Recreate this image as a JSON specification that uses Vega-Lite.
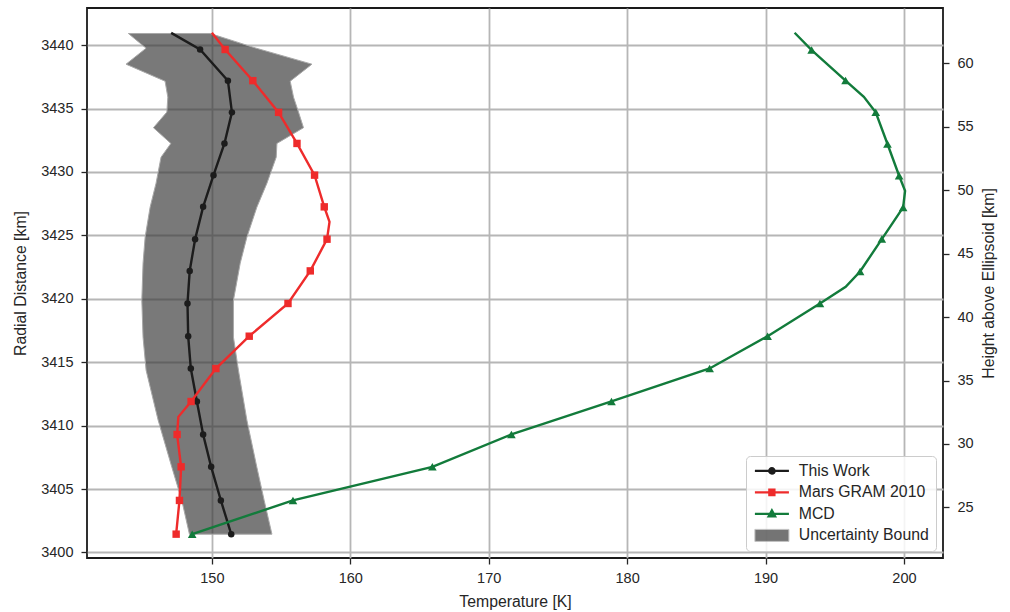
{
  "$schema": "https://vega.github.io/schema/vega-lite/v6.json",
  "width": 856,
  "height": 550,
  "autosize": {"type": "none"},
  "padding": {"left": 87, "top": 8, "right": 67, "bottom": 54},
  "background": "white",
  "datasets": {
    "band": [
      {"R": 3440.92, "lo": 143.97, "hi": 149.88},
      {"R": 3439.76, "lo": 145.25, "hi": 153.2},
      {"R": 3438.5, "lo": 143.8, "hi": 157.23},
      {"R": 3437.16, "lo": 146.62, "hi": 155.66},
      {"R": 3435.9, "lo": 146.82, "hi": 155.9},
      {"R": 3434.72, "lo": 146.75, "hi": 156.26},
      {"R": 3433.49, "lo": 145.78, "hi": 156.62},
      {"R": 3432.25, "lo": 147.04, "hi": 154.7},
      {"R": 3431.17, "lo": 146.33, "hi": 154.65},
      {"R": 3429.12, "lo": 145.97, "hi": 153.98},
      {"R": 3427.22, "lo": 145.54, "hi": 153.25},
      {"R": 3424.86, "lo": 145.18, "hi": 152.53},
      {"R": 3422.81, "lo": 145.03, "hi": 152.05},
      {"R": 3419.89, "lo": 144.94, "hi": 151.56},
      {"R": 3416.97, "lo": 145.03, "hi": 151.56},
      {"R": 3414.37, "lo": 145.25, "hi": 151.92},
      {"R": 3410.43, "lo": 146.12, "hi": 152.53},
      {"R": 3406.72, "lo": 147.11, "hi": 153.25},
      {"R": 3404.1, "lo": 147.83, "hi": 153.78},
      {"R": 3401.44, "lo": 148.38, "hi": 154.34}
    ],
    "radial": [
      {"series": "This Work", "T": 147.06, "R": 3440.97, "marked": false},
      {"series": "This Work", "T": 149.15, "R": 3439.66, "marked": true},
      {"series": "This Work", "T": 151.16, "R": 3437.2, "marked": true},
      {"series": "This Work", "T": 151.45, "R": 3434.7, "marked": true},
      {"series": "This Work", "T": 150.91, "R": 3432.25, "marked": true},
      {"series": "This Work", "T": 150.12, "R": 3429.75, "marked": true},
      {"series": "This Work", "T": 149.37, "R": 3427.25, "marked": true},
      {"series": "This Work", "T": 148.79, "R": 3424.7, "marked": true},
      {"series": "This Work", "T": 148.4, "R": 3422.2, "marked": true},
      {"series": "This Work", "T": 148.24, "R": 3419.63, "marked": true},
      {"series": "This Work", "T": 148.29, "R": 3417.05, "marked": true},
      {"series": "This Work", "T": 148.48, "R": 3414.5, "marked": true},
      {"series": "This Work", "T": 148.92, "R": 3411.9, "marked": true},
      {"series": "This Work", "T": 149.37, "R": 3409.3, "marked": true},
      {"series": "This Work", "T": 149.95, "R": 3406.75, "marked": true},
      {"series": "This Work", "T": 150.65, "R": 3404.1, "marked": true},
      {"series": "This Work", "T": 151.4, "R": 3401.44, "marked": true},
      {"series": "Mars GRAM 2010", "T": 150.0, "R": 3440.97, "marked": false},
      {"series": "Mars GRAM 2010", "T": 150.96, "R": 3439.66, "marked": true},
      {"series": "Mars GRAM 2010", "T": 152.96, "R": 3437.2, "marked": true},
      {"series": "Mars GRAM 2010", "T": 154.82, "R": 3434.7, "marked": true},
      {"series": "Mars GRAM 2010", "T": 156.15, "R": 3432.25, "marked": true},
      {"series": "Mars GRAM 2010", "T": 157.42, "R": 3429.75, "marked": true},
      {"series": "Mars GRAM 2010", "T": 158.12, "R": 3427.25, "marked": true},
      {"series": "Mars GRAM 2010", "T": 158.5, "R": 3426.07, "marked": false},
      {"series": "Mars GRAM 2010", "T": 158.32, "R": 3424.7, "marked": true},
      {"series": "Mars GRAM 2010", "T": 157.11, "R": 3422.2, "marked": true},
      {"series": "Mars GRAM 2010", "T": 155.5, "R": 3419.63, "marked": true},
      {"series": "Mars GRAM 2010", "T": 152.7, "R": 3417.05, "marked": true},
      {"series": "Mars GRAM 2010", "T": 150.29, "R": 3414.5, "marked": true},
      {"series": "Mars GRAM 2010", "T": 148.5, "R": 3411.9, "marked": true},
      {"series": "Mars GRAM 2010", "T": 147.58, "R": 3410.69, "marked": false},
      {"series": "Mars GRAM 2010", "T": 147.49, "R": 3409.3, "marked": true},
      {"series": "Mars GRAM 2010", "T": 147.78, "R": 3406.75, "marked": true},
      {"series": "Mars GRAM 2010", "T": 147.66, "R": 3404.1, "marked": true},
      {"series": "Mars GRAM 2010", "T": 147.42, "R": 3401.44, "marked": true}
    ],
    "mcd": [
      {"series": "MCD", "T": 192.1, "H": 62.42, "marked": false},
      {"series": "MCD", "T": 193.33, "H": 61.05, "marked": true},
      {"series": "MCD", "T": 195.78, "H": 58.65, "marked": true},
      {"series": "MCD", "T": 197.1, "H": 57.37, "marked": false},
      {"series": "MCD", "T": 197.96, "H": 56.15, "marked": true},
      {"series": "MCD", "T": 198.81, "H": 53.65, "marked": true},
      {"series": "MCD", "T": 199.65, "H": 51.15, "marked": true},
      {"series": "MCD", "T": 200.08, "H": 49.95, "marked": false},
      {"series": "MCD", "T": 199.94, "H": 48.65, "marked": true},
      {"series": "MCD", "T": 198.4, "H": 46.15, "marked": true},
      {"series": "MCD", "T": 196.83, "H": 43.6, "marked": true},
      {"series": "MCD", "T": 195.79, "H": 42.39, "marked": false},
      {"series": "MCD", "T": 193.93, "H": 41.08, "marked": true},
      {"series": "MCD", "T": 190.15, "H": 38.5, "marked": true},
      {"series": "MCD", "T": 185.96, "H": 35.95, "marked": true},
      {"series": "MCD", "T": 178.87, "H": 33.35, "marked": true},
      {"series": "MCD", "T": 171.64, "H": 30.75, "marked": true},
      {"series": "MCD", "T": 165.93, "H": 28.2, "marked": true},
      {"series": "MCD", "T": 155.86, "H": 25.55, "marked": true},
      {"series": "MCD", "T": 148.58, "H": 22.89, "marked": true}
    ]
  },
  "layer": [
    {
      "layer": [
        {
          "data": {"name": "band"},
          "mark": {"type": "area", "orient": "horizontal", "fillOpacity": 0.68, "strokeWidth": 1},
          "encoding": {
            "x": {"field": "lo", "type": "quantitative", "scale": {"domain": [140.98, 202.82], "nice": false, "zero": false},
                  "axis": {"values": [150, 160, 170, 180, 190, 200], "title": "Temperature [K]", "titlePadding": 10, "format": "d"}},
            "x2": {"field": "hi"},
            "y": {"field": "R", "type": "quantitative", "scale": {"domain": [3399.56, 3442.93], "nice": false, "zero": false},
                  "axis": {"values": [3400, 3405, 3410, 3415, 3420, 3425, 3430, 3435, 3440], "title": "Radial Distance [km]", "titlePadding": 12, "labelPadding": 8, "format": "d", "orient": "left"}},
            "fill": {
              "datum": "Uncertainty Bound",
              "scale": {"domain": ["This Work", "Mars GRAM 2010", "MCD", "Uncertainty Bound"], "range": ["#1c1c1c", "#ee2b2b", "#127b3b", "#3a3a3a"]},
              "legend": {
                "title": null, "orient": "bottom-right", "offset": 7, "padding": 7,
                "fillColor": "rgba(255,255,255,0.85)", "strokeColor": "#cccccc", "cornerRadius": 4,
                "symbolSize": 144, "labelOffset": 30, "rowPadding": 4.5, "labelFontSize": 15.8, "labelColor": "#262626",
                "symbolType": {"expr": "datum.value === 'This Work' ? 'M-1,0H4.67M1.38,0A0.45,0.45 0 1,0 2.28,0A0.45,0.45 0 1,0 1.38,0Z' : datum.value === 'Mars GRAM 2010' ? 'M-1,0H4.67M1.4,-0.45H2.26V0.45H1.4Z' : datum.value === 'MCD' ? 'M-1,0H4.67M1.83,-0.6L2.38,0.4L1.28,0.4Z' : 'M-1,-1H4.67V1H-1Z'"},
                "symbolStrokeWidth": {"expr": "datum.value === 'Uncertainty Bound' ? 1 : 2.2"},
                "symbolOpacity": {"expr": "datum.value === 'Uncertainty Bound' ? 0.7 : 1"}
              }
            },
            "stroke": {
              "datum": "Uncertainty Bound",
              "scale": {"domain": ["This Work", "Mars GRAM 2010", "MCD", "Uncertainty Bound"], "range": ["#1c1c1c", "#ee2b2b", "#127b3b", "#a8a8a8"]},
              "legend": {
                "title": null, "orient": "bottom-right", "offset": 7, "padding": 7,
                "fillColor": "rgba(255,255,255,0.85)", "strokeColor": "#cccccc", "cornerRadius": 4,
                "symbolSize": 144, "labelOffset": 30, "rowPadding": 4.5, "labelFontSize": 15.8, "labelColor": "#262626",
                "symbolType": {"expr": "datum.value === 'This Work' ? 'M-1,0H4.67M1.38,0A0.45,0.45 0 1,0 2.28,0A0.45,0.45 0 1,0 1.38,0Z' : datum.value === 'Mars GRAM 2010' ? 'M-1,0H4.67M1.4,-0.45H2.26V0.45H1.4Z' : datum.value === 'MCD' ? 'M-1,0H4.67M1.83,-0.6L2.38,0.4L1.28,0.4Z' : 'M-1,-1H4.67V1H-1Z'"},
                "symbolStrokeWidth": {"expr": "datum.value === 'Uncertainty Bound' ? 1 : 2.2"},
                "symbolOpacity": {"expr": "datum.value === 'Uncertainty Bound' ? 0.7 : 1"}
              }
            }
          }
        },
        {
          "data": {"name": "radial"},
          "mark": {"type": "line", "strokeWidth": 2.4},
          "encoding": {
            "x": {"field": "T", "type": "quantitative"},
            "y": {"field": "R", "type": "quantitative"},
            "stroke": {"field": "series", "type": "nominal", "title": null},
            "order": {"field": "R", "type": "quantitative"}
          }
        },
        {
          "data": {"name": "radial"},
          "transform": [{"filter": "datum.marked && datum.series === 'This Work'"}],
          "mark": {"type": "point", "shape": "circle", "filled": true, "size": 42, "opacity": 1, "strokeWidth": 0},
          "encoding": {
            "x": {"field": "T", "type": "quantitative"},
            "y": {"field": "R", "type": "quantitative"},
            "fill": {"field": "series", "type": "nominal", "title": null}
          }
        },
        {
          "data": {"name": "radial"},
          "transform": [{"filter": "datum.marked && datum.series === 'Mars GRAM 2010'"}],
          "mark": {"type": "point", "shape": "square", "filled": true, "size": 55, "opacity": 1, "strokeWidth": 0},
          "encoding": {
            "x": {"field": "T", "type": "quantitative"},
            "y": {"field": "R", "type": "quantitative"},
            "fill": {"field": "series", "type": "nominal", "title": null}
          }
        }
      ]
    },
    {
      "data": {"name": "mcd"},
      "layer": [
        {
          "mark": {"type": "line", "strokeWidth": 2.4},
          "encoding": {
            "x": {"field": "T", "type": "quantitative"},
            "y": {"field": "H", "type": "quantitative", "scale": {"domain": [21.01, 64.37], "nice": false, "zero": false},
                  "axis": {"orient": "right", "values": [25, 30, 35, 40, 45, 50, 55, 60], "title": "Height above Ellipsoid [km]", "titleAngle": 270, "titleBaseline": "top", "grid": false, "titlePadding": 8, "labelPadding": 8, "format": "d"}},
            "stroke": {"field": "series", "type": "nominal", "title": null},
            "order": {"field": "H", "type": "quantitative"}
          }
        },
        {
          "transform": [{"filter": "datum.marked"}],
          "mark": {"type": "point", "shape": "triangle-up", "filled": true, "size": 75, "opacity": 1, "strokeWidth": 0},
          "encoding": {
            "x": {"field": "T", "type": "quantitative"},
            "y": {"field": "H", "type": "quantitative"},
            "fill": {"field": "series", "type": "nominal", "title": null}
          }
        }
      ]
    }
  ],
  "resolve": {"scale": {"y": "independent"}},
  "config": {
    "font": "Liberation Sans",
    "view": {"stroke": "#1a1a1a", "strokeWidth": 1.8},
    "legend": {"labelFont": "Liberation Sans"},
    "axis": {
      "domain": false,
      "labelFontSize": 14.5,
      "labelColor": "#262626",
      "labelPadding": 7,
      "titleFontSize": 15.8,
      "titleFontWeight": "normal",
      "titleColor": "#262626",
      "tickColor": "#262626",
      "tickSize": 6,
      "tickWidth": 1.3,
      "gridColor": "#b6b6b6",
      "gridWidth": 1.8
    }
  }
}
